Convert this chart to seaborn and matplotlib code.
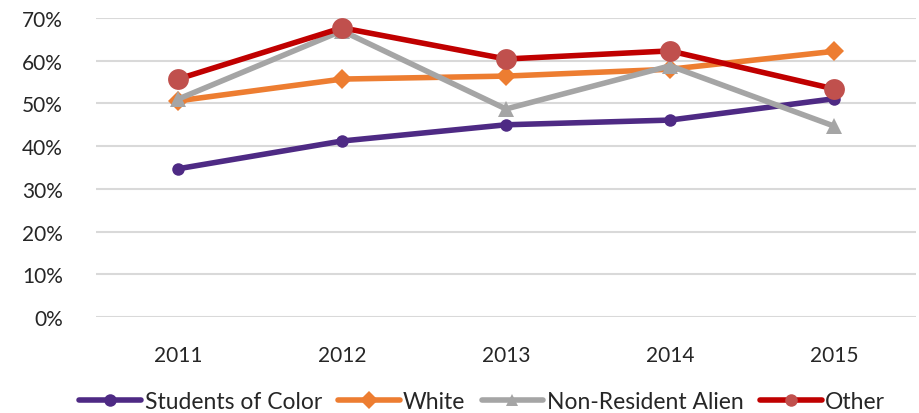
import matplotlib
matplotlib.use("Agg")
import matplotlib.pyplot as plt
import seaborn as sns
import pandas as pd
from matplotlib.ticker import PercentFormatter

years = [2011, 2012, 2013, 2014, 2015]
students_of_color = [0.347, 0.412, 0.450, 0.461, 0.511]
white = [0.506, 0.557, 0.564, 0.580, 0.622]
non_resident_alien = [0.510, 0.670, 0.487, 0.588, 0.447]
other = [0.557, 0.677, 0.604, 0.623, 0.534]
y_ticks = [0, 0.1, 0.2, 0.3, 0.4, 0.5, 0.6, 0.7]

sns.set_theme(style="white")
plt.rcParams['font.family'] = ['Lato', 'DejaVu Sans']

fig = plt.figure(figsize=(9.2, 4.14), dpi=100)
ax = fig.add_axes([96/920, (414-318)/414, 820/920, (318-19)/414])

series = [
    ("Students of Color", students_of_color, "#4E2A84", "#4E2A84", "o", 9),
    ("White", white, "#ED7D31", "#ED7D31", "D", 10),
    ("Non-Resident Alien", non_resident_alien, "#A5A5A5", "#A5A5A5", "^", 12),
    ("Other", other, "#C00000", "#C0504D", "o", 15),
]
for name, vals, lc, mc, mk, ms in series:
    df = pd.DataFrame({"year": years, "value": vals})
    sns.lineplot(data=df, x="year", y="value", ax=ax, color=lc, linewidth=4,
                 marker=mk, markersize=ms, markerfacecolor=mc, markeredgecolor=mc,
                 markeredgewidth=0, label=name, clip_on=False, zorder=3)

ax.set_xlim(2010.5, 2015.5)
ax.set_ylim(0, 0.70)
ax.set_xticks(years)
ax.set_xticklabels([str(y) for y in years])
ax.set_yticks(y_ticks)
ax.yaxis.set_major_formatter(PercentFormatter(1.0, decimals=0))
ax.grid(axis="y", color="#D9D9D9", linewidth=1.5)
ax.grid(axis="x", visible=False)
for s in ax.spines.values():
    s.set_visible(False)
ax.tick_params(axis="both", length=0, labelsize=15, colors="#262626")
ax.tick_params(axis="x", pad=20)
ax.tick_params(axis="y", pad=24)
ax.set_xlabel("")
ax.set_ylabel("")

handles, labels = ax.get_legend_handles_labels()
ax.get_legend().remove()
leg = fig.legend(handles, labels, loc="center", bbox_to_anchor=(0.524, 0.028), ncol=4,
                 frameon=False, fontsize=16.5, handlelength=2.7, columnspacing=0.7,
                 handletextpad=0.15, borderpad=0, borderaxespad=0)
for h in leg.legend_handles:
    h.set_markersize(9)

fig.savefig("out.png", dpi=100)
